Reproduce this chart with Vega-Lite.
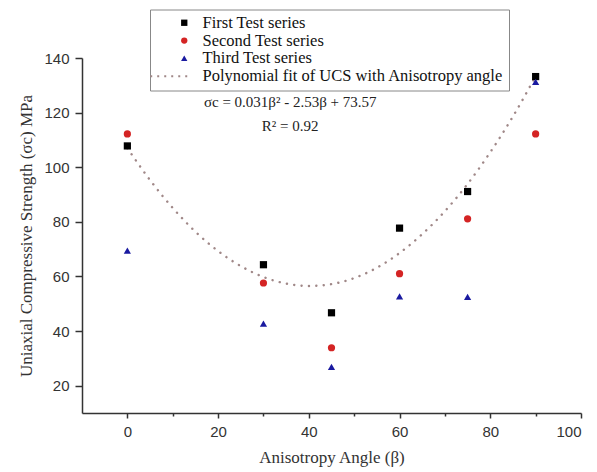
{
  "$schema": "https://vega.github.io/schema/vega-lite/v6.json",
  "width": 499,
  "height": 355,
  "autosize": {"type": "none"},
  "padding": {"left": 82, "top": 58, "right": 16, "bottom": 59},
  "background": "white",
  "config": {
    "view": {"stroke": null},
    "axis": {
      "grid": false,
      "domainColor": "#333333",
      "domainWidth": 1.5,
      "tickColor": "#333333",
      "tickWidth": 1.5,
      "labelFont": "Liberation Sans",
      "labelFontSize": 15,
      "labelColor": "#333333",
      "titleFont": "Liberation Serif",
      "titleFontSize": 17,
      "titleFontWeight": "normal",
      "titleColor": "#333333"
    }
  },
  "datasets": {
    "points": [
      {"angle": 0, "ucs": 107.8, "series": "First Test series"},
      {"angle": 30, "ucs": 64.3, "series": "First Test series"},
      {"angle": 45, "ucs": 46.7, "series": "First Test series"},
      {"angle": 60, "ucs": 77.7, "series": "First Test series"},
      {"angle": 75, "ucs": 91.1, "series": "First Test series"},
      {"angle": 90, "ucs": 133.2, "series": "First Test series"},
      {"angle": 0, "ucs": 112.2, "series": "Second Test series"},
      {"angle": 30, "ucs": 57.6, "series": "Second Test series"},
      {"angle": 45, "ucs": 33.9, "series": "Second Test series"},
      {"angle": 60, "ucs": 61.0, "series": "Second Test series"},
      {"angle": 75, "ucs": 81.1, "series": "Second Test series"},
      {"angle": 90, "ucs": 112.2, "series": "Second Test series"},
      {"angle": 0, "ucs": 69.5, "series": "Third Test series"},
      {"angle": 30, "ucs": 42.7, "series": "Third Test series"},
      {"angle": 45, "ucs": 26.9, "series": "Third Test series"},
      {"angle": 60, "ucs": 52.7, "series": "Third Test series"},
      {"angle": 75, "ucs": 52.5, "series": "Third Test series"},
      {"angle": 90, "ucs": 131.3, "series": "Third Test series"}
    ],
    "fit": [
      {"angle": 0, "ucs": 107.0},
      {"angle": 5, "ucs": 95.3},
      {"angle": 10, "ucs": 85.1},
      {"angle": 15, "ucs": 76.4},
      {"angle": 20, "ucs": 69.3},
      {"angle": 25, "ucs": 63.8},
      {"angle": 30, "ucs": 59.8},
      {"angle": 35, "ucs": 57.4},
      {"angle": 40, "ucs": 56.5},
      {"angle": 45, "ucs": 57.2},
      {"angle": 50, "ucs": 59.4},
      {"angle": 55, "ucs": 63.2},
      {"angle": 60, "ucs": 68.6},
      {"angle": 65, "ucs": 75.5},
      {"angle": 70, "ucs": 83.9},
      {"angle": 75, "ucs": 93.9},
      {"angle": 80, "ucs": 105.5},
      {"angle": 85, "ucs": 118.6},
      {"angle": 90, "ucs": 133.3}
    ],
    "eq": [
      {"angle": 35.9, "ucs": 123.9, "label": "σc = 0.031β² - 2.53β + 73.57"},
      {"angle": 35.9, "ucs": 115.1, "label": "R² = 0.92"}
    ]
  },
  "layer": [
    {
      "data": {"name": "fit"},
      "mark": {"type": "line", "interpolate": "monotone", "strokeDash": [0.1, 7.3], "strokeCap": "round", "strokeWidth": 2.4, "color": "#a08888"},
      "encoding": {
        "x": {
          "field": "angle", "type": "quantitative",
          "scale": {"domain": [-10, 100], "nice": false, "zero": false},
          "axis": {
            "title": "Anisotropy Angle (β)",
            "values": [0, 10, 20, 30, 40, 50, 60, 70, 80, 90, 100],
            "labelExpr": "datum.value % 20 == 0 ? datum.label : ''",
            "tickSize": {"condition": {"test": "datum.value % 20 != 0", "value": 3}, "value": 5},
            "labelPadding": 6,
            "titlePadding": 10
          }
        },
        "y": {
          "field": "ucs", "type": "quantitative",
          "scale": {"domain": [10, 140], "nice": false, "zero": false},
          "axis": {
            "title": "Uniaxial Compressive Strength (σc) MPa",
            "values": [20, 30, 40, 50, 60, 70, 80, 90, 100, 110, 120, 130, 140],
            "labelExpr": "datum.value % 20 == 0 ? datum.label : ''",
            "tickSize": {"condition": {"test": "datum.value % 20 != 0", "value": 4}, "value": 7},
            "labelPadding": 6,
            "titlePadding": 8
          }
        }
      }
    },
    {
      "data": {"name": "points"},
      "mark": {"type": "point", "filled": true, "size": 52, "opacity": 1},
      "encoding": {
        "x": {"field": "angle", "type": "quantitative"},
        "y": {"field": "ucs", "type": "quantitative"},
        "color": {
          "field": "series", "type": "nominal",
          "scale": {
            "domain": ["First Test series", "Second Test series", "Third Test series", "Polynomial fit of UCS with Anisotropy angle"],
            "range": ["#000000", "#d42424", "#1a1aa0", "#a08888"]
          },
          "legend": {
            "title": null,
            "orient": "none",
            "legendX": 68,
            "legendY": -48.5,
            "direction": "vertical",
            "fillColor": "white",
            "strokeColor": "#888888",
            "padding": 5,
            "symbolOffset": 21,
            "labelFont": "Liberation Serif",
            "labelFontSize": 16.5,
            "labelColor": "#111111",
            "labelLimit": 400,
            "symbolSize": 40,
            "symbolStrokeWidth": 0,
            "rowPadding": 0.8,
            "labelOffset": 10
          }
        },
        "shape": {
          "field": "series", "type": "nominal",
          "scale": {
            "domain": ["First Test series", "Second Test series", "Third Test series", "Polynomial fit of UCS with Anisotropy angle"],
            "range": ["square", "circle", "triangle-up", "M-10.76,-0.32h0.63v0.63h-0.63z M-8.55,-0.32h0.63v0.63h-0.63z M-6.33,-0.32h0.63v0.63h-0.63z M-4.12,-0.32h0.63v0.63h-0.63z M-1.9,-0.32h0.63v0.63h-0.63z M0.31,-0.32h0.63v0.63h-0.63z"]
          },
          "legend": {
            "title": null,
            "orient": "none",
            "legendX": 68,
            "legendY": -48.5
          }
        }
      }
    },
    {
      "data": {"name": "eq"},
      "mark": {"type": "text", "font": "Liberation Serif", "fontSize": 15, "color": "#222222", "baseline": "middle", "align": "center"},
      "encoding": {
        "x": {"field": "angle", "type": "quantitative"},
        "y": {"field": "ucs", "type": "quantitative"},
        "text": {"field": "label"}
      }
    }
  ]
}
